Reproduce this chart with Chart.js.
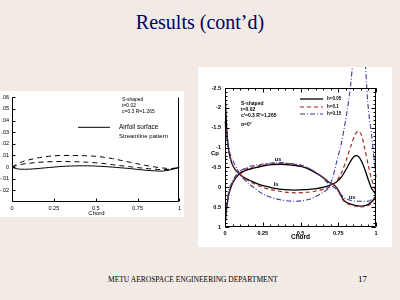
<!DOCTYPE html>
<html>
<head>
<meta charset="utf-8">
<script src="https://cdn.jsdelivr.net/npm/chart.js@4"></script>
<style>
  body { margin: 0; width: 400px; height: 300px; overflow: hidden; background: #f2ebe5; position: relative; font-family: "Liberation Serif", "Times New Roman", serif; }
  #title { position: absolute; left: 0; top: 11px; width: 400px; text-align: center; font-size: 20px; color: #000066; }
  .panel { position: absolute; background: #fff; overflow: hidden; }
  .panel canvas { position: absolute; }
  #foot { position: absolute; left: 108px; top: 275px; font-size: 7.5px; color: #000; white-space: nowrap; }
  #page { position: absolute; left: 358px; top: 274px; font-size: 9px; color: #000; }
</style>
</head>
<body>
<div id="title">Results (cont’d)</div>
<div class="panel" style="left:0;top:91px;width:184px;height:126px">
  <canvas id="shape" width="204" height="126" style="left:-20px;top:0"></canvas>
</div>
<div class="panel" style="left:198px;top:67px;width:194px;height:180px">
  <canvas id="cp" width="194" height="180" style="left:0;top:0"></canvas>
</div>
<div id="foot">METU AEROSPACE ENGINEERING DEPARTMENT</div>
<div id="page">17</div>
<script>
// left chart: airfoil shape + streamlines
const chordShape = [0, 0.02, 0.05, 0.1, 0.15, 0.2, 0.25, 0.3, 0.35, 0.4, 0.45, 0.5, 0.55, 0.6, 0.65, 0.7, 0.75, 0.8, 0.85, 0.9, 0.95, 1];
const streamUpper = [0, 0.0018, 0.004, 0.0062, 0.0078, 0.009, 0.0097, 0.01, 0.01, 0.0099, 0.0097, 0.0093, 0.0085, 0.0073, 0.0058, 0.0043, 0.0028, 0.0014, 0.0002, -0.0008, -0.0012, -0.0004];
const streamLower = [0, 0.001, 0.0022, 0.0033, 0.004, 0.0045, 0.0047, 0.0048, 0.0047, 0.0045, 0.0042, 0.0037, 0.003, 0.0021, 0.0012, 0.0004, -0.0004, -0.0012, -0.0018, -0.0022, -0.0018, -0.0005];
const airfoilSurface = [0, -0.0012, -0.0018, -0.0018, -0.0013, -0.0006, 0, 0.0006, 0.0009, 0.0011, 0.0011, 0.0009, 0.0005, 0, -0.0006, -0.0012, -0.002, -0.0027, -0.0032, -0.0034, -0.0022, 0];

// right chart: Cp distributions
const chordUs = [0, 0.004, 0.011, 0.022, 0.033, 0.055, 0.088, 0.132, 0.188, 0.243, 0.309, 0.375, 0.44, 0.51, 0.574, 0.64, 0.684, 0.728, 0.75, 0.773, 0.795, 0.839, 0.883, 0.916, 0.949, 0.982, 1];
const cpUsH005 = [1, 0.79, 0.53, 0.24, 0.07, -0.14, -0.31, -0.42, -0.48, -0.53, -0.57, -0.58, -0.56, -0.52, -0.42, -0.27, -0.14, -0.04, 0.07, 0.24, 0.36, 0.43, 0.47, 0.47, 0.43, 0.32, 0.2];
const cpUsH01 = [1, 0.79, 0.52, 0.22, 0.05, -0.16, -0.33, -0.45, -0.51, -0.56, -0.6, -0.61, -0.59, -0.54, -0.44, -0.28, -0.15, -0.03, 0.1, 0.27, 0.38, 0.45, 0.49, 0.49, 0.46, 0.34, 0.15];
const cpUsH015 = [1, 0.75, 0.5, 0.15, -0.02, -0.2, -0.37, -0.48, -0.55, -0.58, -0.61, -0.62, -0.6, -0.55, -0.44, -0.26, -0.1, 0.02, 0.1, 0.2, 0.28, 0.34, 0.35, 0.35, 0.35, 0.28, 0.2];

const chordLs = [0, 0.002, 0.007, 0.011, 0.018, 0.027, 0.044, 0.066, 0.099, 0.132, 0.177, 0.221, 0.265, 0.331, 0.397, 0.464, 0.53, 0.596, 0.662, 0.706, 0.74, 0.773, 0.806, 0.839, 0.861, 0.883, 0.905, 0.927, 0.949, 0.971, 0.993, 1];
const cpLsH005 = [-2.05, -2.2, -1.8, -1.5, -1.16, -0.88, -0.62, -0.45, -0.32, -0.23, -0.15, -0.08, -0.03, 0.03, 0.06, 0.07, 0.06, 0.04, -0.01, -0.07, -0.14, -0.27, -0.48, -0.7, -0.79, -0.78, -0.65, -0.44, -0.19, 0.03, 0.15, 0.2];
const cpLsH01 = [-1.55, -1.6, -1.45, -1.3, -1.08, -0.85, -0.62, -0.46, -0.33, -0.22, -0.12, -0.04, 0.02, 0.08, 0.12, 0.14, 0.13, 0.1, 0.04, -0.04, -0.16, -0.38, -0.72, -1.1, -1.32, -1.42, -1.3, -0.95, -0.55, -0.2, 0.05, 0.15];

const chordLsH015 = [0, 0.004, 0.011, 0.022, 0.044, 0.077, 0.11, 0.155, 0.199, 0.243, 0.309, 0.375, 0.441, 0.508, 0.574, 0.64, 0.684, 0.71, 0.74, 0.77, 0.79, 0.81, 0.825, 0.833, 0.845];
const cpLsH015 = [-1.65, -1.5, -1.25, -0.99, -0.74, -0.48, -0.27, -0.1, 0.03, 0.15, 0.26, 0.32, 0.35, 0.34, 0.28, 0.15, 0.03, -0.2, -0.65, -1.1, -1.5, -1.95, -2.35, -2.6, -3.1];
const chordTeH015 = [0.93, 0.938, 0.945, 0.956, 0.971, 0.982, 0.992, 1];
const cpTeH015 = [-3.1, -2.58, -2.16, -1.74, -1.32, -0.9, -0.55, -0.25];

const seriesLabels = ["h=0.05", "h=0.1", "h=0.15"];
const shapeXTicks = ["0", "0.25", "0.5", "0.75", "1"];
const cpXTicks = ["0", "0.25", "0.5", "0.75", "1"];

const black = "#000000", red = "#9b2b2b", blue = "#3b3f9e";
const sans = "'Liberation Sans', Arial, sans-serif";

function pts(xs, ys) {
    return xs.map((x, i) => ({ x: x, y: ys[i] }));
}

function line(data, color, dash, width) {
    return { data: data, borderColor: color, borderDash: dash, borderWidth: width, showLine: true, pointRadius: 0, fill: false, tension: 0.3 };
}

// inward ticks, frame and text on the plot
const framePlugin = {
    id: "frame",
    afterDraw(chart, args, opts) {
        const ctx = chart.ctx;
        const a = chart.chartArea;
        const sx = chart.scales.x, sy = chart.scales.y;
        const L = Math.round(a.left) + 0.5, R = Math.round(a.right) - 0.5;
        const T = Math.round(a.top) + 0.5, B = Math.round(a.bottom) - 0.5;
        ctx.save();
        ctx.strokeStyle = "#000";
        ctx.lineWidth = 1;
        ctx.beginPath();
        ctx.moveTo(L, T); ctx.lineTo(L, B); ctx.lineTo(R, B); ctx.lineTo(R, T);
        if (opts.top) { ctx.lineTo(L, T); }
        // ticks
        const tick = (vals, len, sides) => {
            vals.forEach(v => {
                if (sides.includes("x")) {
                    const px = Math.round(sx.getPixelForValue(v)) + 0.5;
                    ctx.moveTo(px, B); ctx.lineTo(px, B - len);
                    if (opts.top) { ctx.moveTo(px, T); ctx.lineTo(px, T + len); }
                }
                if (sides.includes("y")) {
                    const py = Math.round(sy.getPixelForValue(v)) + 0.5;
                    ctx.moveTo(L, py); ctx.lineTo(L + len, py);
                    if (opts.top) { ctx.moveTo(R, py); ctx.lineTo(R - len, py); }
                }
            });
        };
        tick(opts.xMajor, opts.major, "x");
        tick(opts.yMajor, opts.major, "y");
        if (opts.xMinor) tick(opts.xMinor, opts.minor, "x");
        if (opts.yMinor) tick(opts.yMinor, opts.minor, "y");
        ctx.stroke();

        // legend line samples
        (opts.samples || []).forEach(s => {
            ctx.beginPath();
            ctx.strokeStyle = s.color;
            ctx.lineWidth = s.width;
            ctx.setLineDash(s.dash);
            ctx.moveTo(a.left + s.x0, a.top + s.y);
            ctx.lineTo(a.left + s.x1, a.top + s.y);
            ctx.stroke();
        });
        ctx.setLineDash([]);

        // texts
        ctx.fillStyle = "#000";
        ctx.textBaseline = "middle";
        (opts.texts || []).forEach(t => {
            ctx.font = t.font;
            ctx.textAlign = t.align || "left";
            ctx.fillText(t.text, a.left + t.x, a.top + t.y);
        });
        ctx.restore();
    }
};

function range(from, to, step) {
    const out = [];
    for (let v = from; v <= to + 1e-9; v += step) out.push(Math.round(v * 1000) / 1000);
    return out;
}

// ---------- left chart ----------
new Chart(document.getElementById("shape").getContext("2d"), {
    type: "scatter",
    data: {
        datasets: [
            line(pts(chordShape, streamUpper), black, [5, 4], 1),
            line(pts(chordShape, streamLower), black, [5, 4], 1),
            line(pts(chordShape, airfoilSurface), black, [], 1)
        ]
    },
    options: {
        responsive: false,
        animation: false,
        layout: { padding: { top: 5, right: 3, left: 0, bottom: 0 } },
        plugins: {
            legend: { display: false },
            tooltip: { enabled: false },
            frame: {
                top: false, major: 3,
                xMajor: [0, 0.25, 0.5, 0.75, 1],
                yMajor: range(-0.02, 0.06, 0.01),
                texts: [
                    { text: "S-shaped", x: 110, y: 2, font: "5px " + sans },
                    { text: "t=0.02", x: 110, y: 8, font: "5px " + sans },
                    { text: "c=0.3 R=1.265", x: 110, y: 14, font: "5px " + sans },
                    { text: "Airfoil surface", x: 107, y: 30, font: "6.5px " + sans },
                    { text: "Streamline pattern", x: 107, y: 39, font: "6px " + sans },
                    { text: "Chord", x: 84.5, y: 116, font: "6px " + sans, align: "center" }
                ],
                samples: [{ x0: 66, x1: 98, y: 30, color: black, dash: [], width: 1 }]
            }
        },
        scales: {
            x: {
                type: "linear", min: 0, max: 1,
                afterFit: s => { s.height = 15; },
                grid: { display: false, drawTicks: false },
                border: { display: false },
                ticks: { stepSize: 0.25, padding: 3, color: "#000", font: { size: 5.5, family: sans }, maxRotation: 0,
                    callback: v => shapeXTicks[Math.round(v * 4)] }
            },
            y: {
                type: "linear", min: -0.03, max: 0.06,
                afterFit: s => { s.width = 32; },
                grid: { display: false, drawTicks: false },
                border: { display: false },
                ticks: { stepSize: 0.01, padding: 3, color: "#000", font: { size: 5.5, family: sans },
                    callback: v => {
                        const r = Math.round(v * 100);
                        if (r === -3) return "";
                        if (r === 0) return "0";
                        return (r < 0 ? "-" : "") + ".0" + Math.abs(r);
                    } }
            }
        }
    },
    plugins: [framePlugin]
});

// ---------- right chart ----------
const blueDash = [5, 2, 1, 2];
const redDash = [4, 3];
const teBlue = line(pts(chordTeH015, cpTeH015), blue, blueDash, 1.1);
teBlue.clip = false;
const lsBlue = line(pts(chordLsH015, cpLsH015), blue, blueDash, 1.1);
lsBlue.clip = false;

new Chart(document.getElementById("cp").getContext("2d"), {
    type: "scatter",
    data: {
        datasets: [
            line(pts(chordUs, cpUsH015), blue, blueDash, 1.1),
            lsBlue,
            teBlue,
            line(pts(chordUs, cpUsH01), red, redDash, 1.2),
            line(pts(chordLs, cpLsH01), red, redDash, 1.2),
            line(pts(chordUs, cpUsH005), black, [], 1.3),
            line(pts(chordLs, cpLsH005), black, [], 1.3)
        ]
    },
    options: {
        responsive: false,
        animation: false,
        layout: { padding: { top: 21, right: 16, left: 0, bottom: 0 } },
        plugins: {
            legend: { display: false },
            tooltip: { enabled: false },
            frame: {
                top: true, major: 4, minor: 2,
                xMajor: [0, 0.25, 0.5, 0.75, 1],
                yMajor: range(-2.5, 1, 0.5),
                xMinor: range(0, 1, 0.05),
                yMinor: range(-2.5, 1, 0.1),
                texts: [
                    { text: "S-shaped", x: 16, y: 16, font: "bold 5px " + sans },
                    { text: "t=0.02", x: 16, y: 22, font: "bold 5px " + sans },
                    { text: "c'=0.3 R'=1.265", x: 16, y: 28, font: "bold 5px " + sans },
                    { text: "α=0°", x: 16, y: 37, font: "bold 5px " + sans },
                    { text: seriesLabels[0], x: 102, y: 11, font: "bold 4.5px " + sans },
                    { text: seriesLabels[1], x: 102, y: 19, font: "bold 4.5px " + sans },
                    { text: seriesLabels[2], x: 102, y: 26, font: "bold 4.5px " + sans },
                    { text: "us", x: 53, y: 71, font: "bold 5.5px " + sans, align: "center" },
                    { text: "ls", x: 51, y: 96, font: "bold 5.5px " + sans, align: "center" },
                    { text: "us", x: 127, y: 109, font: "bold 5.5px " + sans, align: "center" },
                    { text: "Cp", x: -10, y: 65, font: "bold 6px " + sans, align: "center" },
                    { text: "Chord", x: 75.5, y: 149, font: "bold 6.5px " + sans, align: "center" }
                ],
                samples: [
                    { x0: 75, x1: 98, y: 11, color: black, dash: [], width: 1.3 },
                    { x0: 75, x1: 98, y: 19, color: red, dash: redDash, width: 1.2 },
                    { x0: 75, x1: 98, y: 26, color: blue, dash: blueDash, width: 1.1 }
                ]
            }
        },
        scales: {
            x: {
                type: "linear", min: 0, max: 1,
                afterFit: s => { s.height = 20; },
                grid: { display: false, drawTicks: false },
                border: { display: false },
                ticks: { stepSize: 0.25, padding: 3, color: "#000", font: { size: 5.5, family: sans, weight: "bold" }, maxRotation: 0,
                    callback: v => cpXTicks[Math.round(v * 4)] }
            },
            y: {
                type: "linear", min: -2.5, max: 1, reverse: true,
                afterFit: s => { s.width = 27; },
                grid: { display: false, drawTicks: false },
                border: { display: false },
                ticks: { stepSize: 0.5, padding: 4, color: "#000", font: { size: 5.5, family: sans, weight: "bold" },
                    callback: v => String(Math.round(v * 10) / 10) }
            }
        }
    },
    plugins: [framePlugin]
});
</script>
</body>
</html>
